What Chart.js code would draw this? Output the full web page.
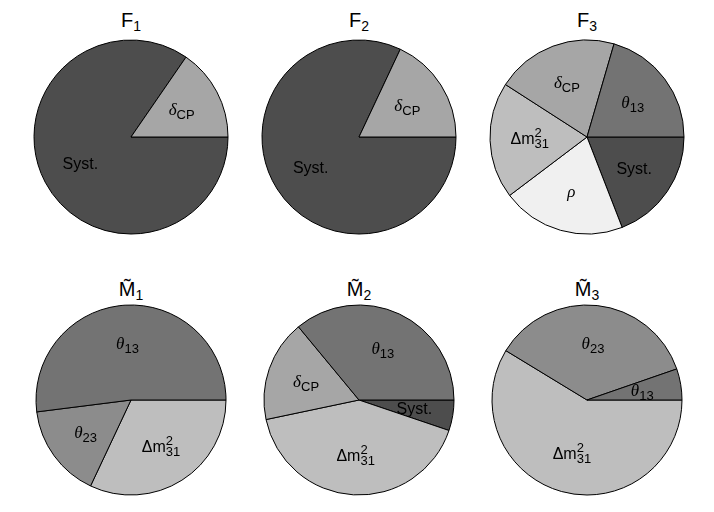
<!DOCTYPE html>
<html>
<head>
<meta charset="utf-8">
<script src="https://cdn.jsdelivr.net/npm/chart.js@4.4.1/dist/chart.umd.min.js"></script>
<style>
  body { margin: 0; background: #fff; width: 714px; height: 512px; position: relative; overflow: hidden; }
  .pie { position: absolute; width: 210px; height: 210px; }
  .title { position: absolute; width: 120px; text-align: center; font: 20px "Liberation Sans", Arial, sans-serif; line-height: 20px; color: #000; }
  .title sub { font-size: 14px; vertical-align: -4px; line-height: 0; }
</style>
</head>
<body>
<script>
// slice order as read counterclockwise from 3 o'clock
const f1Labels = ['δCP', 'Syst.'];
const f1Values = [15.4, 84.6];

const f2Labels = ['δCP', 'Syst.'];
const f2Values = [18.0, 82.0];

const f3Labels = ['θ13', 'δCP', 'Δm231', 'ρ', 'Syst.'];
const f3Values = [20.5, 20.4, 19.4, 20.6, 19.1];

const m1Labels = ['θ13', 'θ23', 'Δm231'];
const m1Values = [52.0, 16.0, 32.0];

const m2Labels = ['θ13', 'δCP', 'Δm231', 'Syst.'];
const m2Values = [36.0, 17.3, 41.5, 5.2];

const m3Labels = ['θ13', 'θ23', 'Δm231'];
const m3Values = [5.3, 36.0, 58.7];

const titles = [
  { main: 'F', sub: '1' }, { main: 'F', sub: '2' }, { main: 'F', sub: '3' },
  { main: 'M\u0303', sub: '1' }, { main: 'M\u0303', sub: '2' }, { main: 'M\u0303', sub: '3' }
];

const colors = {
  'Syst.': '#4d4d4d',
  'δCP': '#a6a6a6',
  'θ13': '#737373',
  'θ23': '#8c8c8c',
  'Δm231': '#bebebe',
  'ρ': '#f0f0f0'
};

// how each label is typeset: main text, italic greek, sub/superscripts
const labelParts = {
  'Syst.': [{ t: 'Syst.' }],
  'δCP': [{ t: 'δ', greek: true }, { sub: 'CP' }],
  'θ13': [{ t: 'θ', greek: true }, { sub: '13' }],
  'θ23': [{ t: 'θ', greek: true }, { sub: '23' }],
  'Δm231': [{ t: 'Δm' }, { sub: '31', sup: '2' }],
  'ρ': [{ t: 'ρ', greek: true }]
};

const sansFont = '16px "Liberation Sans", Arial, sans-serif';
const greekFont = 'italic 17px "Liberation Serif", serif';
const smallFont = '13px "Liberation Sans", Arial, sans-serif';

function partWidth(ctx, p) {
  if (p.t) {
    ctx.font = p.greek ? greekFont : sansFont;
    return ctx.measureText(p.t).width;
  }
  ctx.font = smallFont;
  return Math.max(p.sub ? ctx.measureText(p.sub).width : 0, p.sup ? ctx.measureText(p.sup).width : 0);
}

const sliceLabels = {
  id: 'sliceLabels',
  afterDatasetsDraw(chart) {
    const ctx = chart.ctx;
    const meta = chart.getDatasetMeta(0);
    const names = chart.data.labels;
    ctx.save();
    ctx.fillStyle = '#000';
    ctx.textBaseline = 'alphabetic';
    ctx.textAlign = 'left';
    meta.data.forEach((arc, i) => {
      const { x, y, startAngle, endAngle, outerRadius } = arc.getProps(['x', 'y', 'startAngle', 'endAngle', 'outerRadius'], true);
      const mid = (startAngle + endAngle) / 2;
      const px = x + Math.cos(mid) * outerRadius * 0.59;
      const py = y + Math.sin(mid) * outerRadius * 0.59;
      const parts = labelParts[names[i]];
      const total = parts.reduce((s, p) => s + partWidth(ctx, p), 0);
      let cx = px - total / 2;
      const base = py + 5;
      parts.forEach(p => {
        const w = partWidth(ctx, p);
        if (p.t) {
          ctx.font = p.greek ? greekFont : sansFont;
          ctx.fillText(p.t, cx, base);
        } else {
          ctx.font = smallFont;
          if (p.sub) ctx.fillText(p.sub, cx, base + 4);
          if (p.sup) ctx.fillText(p.sup, cx, base - 7);
        }
        cx += w;
      });
    });
    ctx.restore();
  }
};

const pies = [
  { labels: f1Labels, values: f1Values, cx: 131, cy: 137, r: 97 },
  { labels: f2Labels, values: f2Values, cx: 359, cy: 137, r: 97 },
  { labels: f3Labels, values: f3Values, cx: 587, cy: 137, r: 97 },
  { labels: m1Labels, values: m1Values, cx: 131, cy: 400, r: 95 },
  { labels: m2Labels, values: m2Values, cx: 359, cy: 400, r: 95 },
  { labels: m3Labels, values: m3Values, cx: 587, cy: 400, r: 95 }
];

pies.forEach((p, k) => {
  const t = document.createElement('div');
  t.className = 'title';
  t.style.left = (p.cx - 60) + 'px';
  t.style.top = (k < 3 ? 10 : 279) + 'px';
  t.innerHTML = titles[k].main + '<sub>' + titles[k].sub + '</sub>';
  document.body.appendChild(t);

  const wrap = document.createElement('div');
  wrap.className = 'pie';
  wrap.style.left = (p.cx - 105) + 'px';
  wrap.style.top = (p.cy - 105) + 'px';
  const canvas = document.createElement('canvas');
  wrap.appendChild(canvas);
  document.body.appendChild(wrap);

  // Chart.js draws clockwise, so reverse and start at 3 o'clock
  const labels = p.labels.slice().reverse();
  const values = p.values.slice().reverse();

  new Chart(canvas, {
    type: 'pie',
    data: {
      labels,
      datasets: [{
        data: values,
        backgroundColor: labels.map(l => colors[l]),
        borderColor: '#000',
        borderWidth: 1,
        radius: p.r
      }]
    },
    options: {
      responsive: true,
      maintainAspectRatio: false,
      animation: false,
      rotation: 90,
      layout: { padding: 0 },
      plugins: {
        legend: { display: false },
        tooltip: { enabled: false }
      }
    },
    plugins: [sliceLabels]
  });
});
</script>
</body>
</html>
